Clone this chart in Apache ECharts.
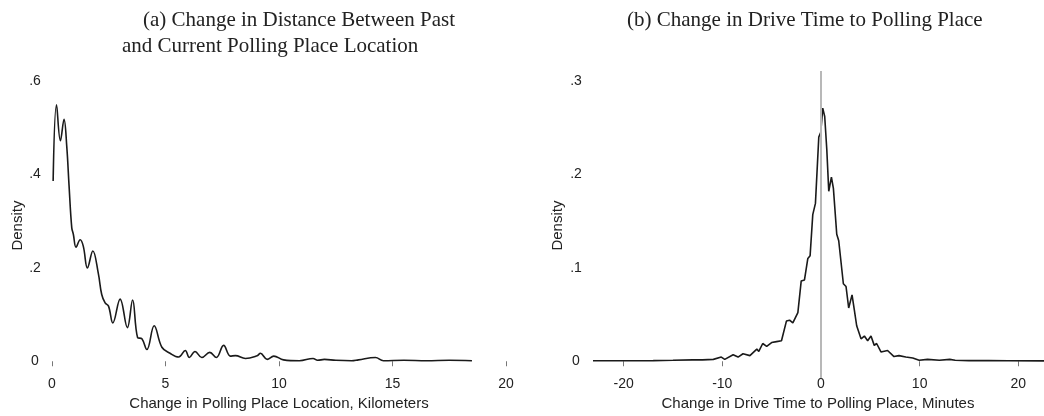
<!DOCTYPE html>
<html>
<head>
<meta charset="utf-8">
<script src="https://cdn.jsdelivr.net/npm/echarts@6/dist/echarts.min.js"></script>
<style>
html,body{margin:0;padding:0;background:#fff;}
#c{width:1044px;height:416px;}
</style>
</head>
<body>
<div id="c"></div>
<script>
// Panel (a): change in distance (km) vs density
const distKm = [0.05,0.2,0.37,0.53,0.65,0.75,0.87,0.94,1.06,1.24,1.38,1.56,1.8,2.04,2.19,2.34,2.49,2.68,3.0,3.32,3.55,3.77,3.96,4.18,4.5,4.84,5.2,5.58,5.87,6.05,6.3,6.6,6.95,7.24,7.56,7.86,8.08,8.52,9.04,9.18,9.48,9.77,10.2,10.9,11.5,11.7,12.0,12.5,13.2,13.5,14.25,14.6,15.5,16.5,17.5,18.5];
const distDensity = [0.386,0.549,0.472,0.518,0.46,0.377,0.286,0.272,0.244,0.26,0.246,0.2,0.236,0.188,0.143,0.125,0.118,0.082,0.133,0.072,0.131,0.051,0.048,0.025,0.076,0.03,0.017,0.009,0.023,0.008,0.021,0.008,0.019,0.008,0.034,0.011,0.012,0.006,0.012,0.017,0.004,0.011,0.003,0.001,0.006,0.002,0.004,0.002,0.001,0.003,0.008,0.001,0.002,0.001,0.002,0.001];

// Panel (b): change in drive time (minutes) vs density
const timeMin = [-23.1,-20,-17,-15,-13,-12,-10.9,-10.1,-9.75,-8.9,-8.4,-7.9,-7.2,-6.5,-6.3,-5.9,-5.5,-5.0,-4.5,-4.0,-3.5,-3.18,-2.85,-2.34,-2.0,-1.67,-1.33,-1.1,-0.83,-0.56,-0.22,-0.02,0.18,0.38,0.59,0.79,1.06,1.26,1.6,1.8,2.27,2.54,2.81,3.15,3.38,3.62,4.06,4.4,4.73,5.07,5.4,5.64,6.08,6.75,7.4,7.9,8.6,9.3,9.95,10.8,12,13.05,13.6,15,17,19,22.6];
const timeDensity = [0.0005,0.0005,0.0007,0.001,0.0015,0.0015,0.002,0.0045,0.002,0.007,0.0045,0.008,0.006,0.013,0.0105,0.019,0.016,0.02,0.021,0.022,0.043,0.044,0.041,0.052,0.086,0.087,0.11,0.113,0.157,0.169,0.24,0.245,0.271,0.262,0.227,0.182,0.197,0.185,0.136,0.129,0.083,0.08,0.057,0.071,0.055,0.038,0.024,0.027,0.022,0.027,0.017,0.019,0.01,0.0115,0.005,0.006,0.0045,0.0035,0.001,0.002,0.001,0.002,0.001,0.0007,0.0008,0.0005,0.0004];

const xTicksA = [0,5,10,15,20];
const xTicksB = [-20,-10,0,10,20];
const yTicksA = [0,0.2,0.4,0.6];
const yTicksB = [0,0.1,0.2,0.3];

const titleA1 = '(a) Change in Distance Between Past';
const titleA2 = 'and Current Polling Place Location';
const titleB = '(b) Change in Drive Time to Polling Place';
const xNameA = 'Change in Polling Place Location, Kilometers';
const xNameB = 'Change in Drive Time to Polling Place, Minutes';
const yName = 'Density';

const zip = (xs, ys) => xs.map((x, i) => [x, ys[i]]);
const yFmt = v => Math.abs(v) < 1e-9 ? '0' : v.toFixed(1).replace(/^0/, '');

const sans = 'Liberation Sans';
const serif = 'Liberation Serif';
const txt = '#222';

const titleStyle = {fontFamily: serif, fontSize: 21, fontWeight: 'normal', color: txt};

// small gap below zero, like the Stata plot region margin (in data units)
const padA = 0.6 * 9 / 285;
const padB = 0.3 * 9 / 285;

const xAxisCommon = {
  type: 'value',
  nameLocation: 'middle', nameGap: 22,
  nameTextStyle: {fontFamily: sans, fontSize: 15, color: txt},
  axisLine: {show: false},
  splitLine: {show: false}
};
const yAxisCommon = {
  type: 'value',
  name: yName, nameLocation: 'middle', nameRotate: 90,
  nameTextStyle: {fontFamily: sans, fontSize: 15, color: txt},
  axisLine: {show: false}, axisTick: {show: false},
  splitLine: {show: false}
};

const chart = echarts.init(document.getElementById('c'), null, {renderer: 'canvas'});
chart.setOption({
  animation: false,
  backgroundColor: '#fff',
  title: [
    {text: titleA1, left: 143, top: 10, padding: 0, textStyle: titleStyle},
    {text: titleA2, left: 122, top: 36, padding: 0, textStyle: titleStyle},
    {text: titleB, left: 627, top: 10, padding: 0, textStyle: titleStyle}
  ],
  grid: [
    {left: 52, top: 81, width: 454, height: 294},
    {left: 592, top: 81, width: 452, height: 294}
  ],
  xAxis: [
    Object.assign({}, xAxisCommon, {
      gridIndex: 0, min: 0, max: 20, name: xNameA,
      axisTick: {show: true, length: 5, customValues: xTicksA, lineStyle: {color: '#777', width: 1}},
      axisLabel: {margin: 7, fontFamily: sans, fontSize: 14, color: txt, customValues: xTicksA}
    }),
    Object.assign({}, xAxisCommon, {
      gridIndex: 1, min: -23.2, max: 22.6, name: xNameB,
      axisTick: {show: true, length: 5, customValues: xTicksB, lineStyle: {color: '#777', width: 1}},
      axisLabel: {margin: 7, fontFamily: sans, fontSize: 14, color: txt, customValues: xTicksB}
    })
  ],
  yAxis: [
    Object.assign({}, yAxisCommon, {
      gridIndex: 0, min: -padA, max: 0.6, nameGap: 26,
      axisLabel: {align: 'center', margin: 17, fontFamily: sans, fontSize: 14, color: txt, formatter: yFmt, customValues: yTicksA}
    }),
    Object.assign({}, yAxisCommon, {
      gridIndex: 1, min: -padB, max: 0.3, nameGap: 27,
      axisLabel: {align: 'center', margin: 16, fontFamily: sans, fontSize: 14, color: txt, formatter: yFmt, customValues: yTicksB}
    })
  ],
  series: [
    {
      type: 'line', xAxisIndex: 0, yAxisIndex: 0,
      data: zip(distKm, distDensity),
      showSymbol: false, smooth: 0.4,
      lineStyle: {color: '#1a1a1a', width: 1.6}
    },
    {
      type: 'line', xAxisIndex: 1, yAxisIndex: 1,
      data: zip(timeMin, timeDensity),
      showSymbol: false, smooth: false,
      lineStyle: {color: '#1a1a1a', width: 1.6},
      z: 3
    },
    {
      type: 'line', xAxisIndex: 1, yAxisIndex: 1,
      data: [], z: 1,
      markLine: {
        silent: true, symbol: 'none', label: {show: false},
        lineStyle: {color: '#b8b8b8', width: 2, type: 'solid'},
        data: [[{coord: [0, 0.3], y: 71}, {coord: [0, 0], y: 378}]]
      }
    }
  ]
});
</script>
</body>
</html>
